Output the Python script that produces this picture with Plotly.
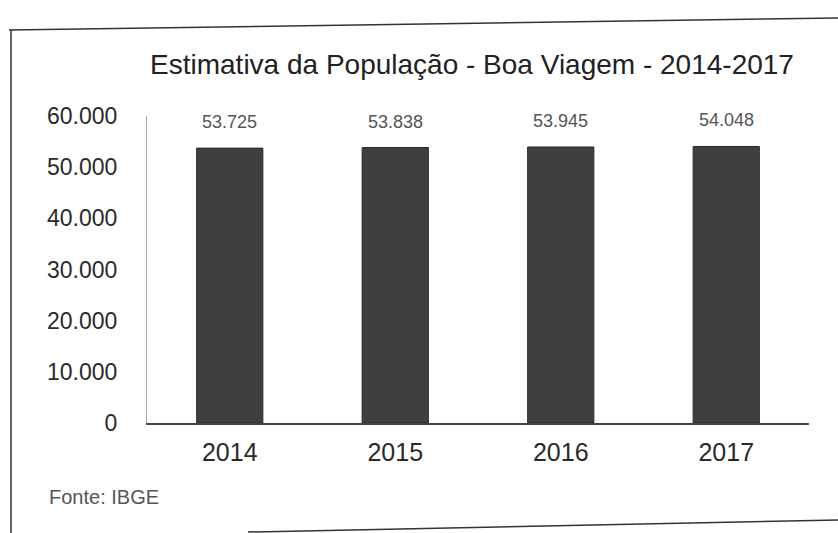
import plotly.graph_objects as go

years = ["2014", "2015", "2016", "2017"]
population = [53725, 53838, 53945, 54048]
y_ticks = [0, 10000, 20000, 30000, 40000, 50000, 60000]

W, H = 838, 533
L, R, T, B = 147, 29, 116, 110
PW, PH = W - L - R, H - T - B


def px(x):
    return (x - L) / PW


def py(y):
    return (H - B - y) / PH


FONT = "Liberation Sans, Arial"

fig = go.Figure(go.Bar(
    x=years, y=population,
    marker=dict(color="#3f3f3f", line=dict(color="#2a2a2a", width=1)),
    width=0.4,
))

# value labels: category index positions on the category axis
annotations = [
    dict(x=i, y=v, xref="x", yref="y", text=f"{v:,}".replace(",", "."),
         showarrow=False, yanchor="bottom", yshift=14,
         font=dict(family=FONT, size=18, color="#555"))
    for i, v in enumerate(population)
]
annotations.append(
    dict(text="Fonte: IBGE", xref="paper", yref="paper", x=px(47), y=py(497),
         xanchor="left", yanchor="middle", showarrow=False,
         font=dict(family=FONT, size=20, color="#555")))

fig.update_layout(
    width=W, height=H,
    margin=dict(l=L, r=R, t=T, b=B),
    paper_bgcolor="white", plot_bgcolor="white",
    separators=",.",
    showlegend=False,
    font=dict(family=FONT, color="#333"),
    title=dict(text="Estimativa da População - Boa Viagem - 2014-2017",
               x=472 / W, xanchor="center", y=1 - 64 / H, yanchor="middle",
               font=dict(size=28, color="#222")),
    xaxis=dict(type="category", range=[-0.5, len(years) - 0.5], autorange=False,
               showgrid=False, showline=True, linecolor="#444", linewidth=1.5,
               ticks="", tickfont=dict(size=25, color="#2a2a2a"),
               ticklabelstandoff=6),
    yaxis=dict(range=[0, 60000], tickvals=y_ticks, tickformat=",d",
               showgrid=False, showline=True, linecolor="#aaa", linewidth=1,
               ticks="", tickfont=dict(size=23, color="#2a2a2a"),
               ticklabelstandoff=24, zeroline=False),
    shapes=[
        dict(type="line", xref="paper", yref="paper", x0=px(9), x1=px(838),
             y0=py(30), y1=py(18), line=dict(color="#333", width=1.5)),
        dict(type="line", xref="paper", yref="paper", x0=px(11), x1=px(11),
             y0=py(30), y1=py(533), line=dict(color="#333", width=1.5)),
        dict(type="line", xref="paper", yref="paper", x0=px(248), x1=px(838),
             y0=py(532), y1=py(520), line=dict(color="#333", width=1.5)),
    ],
    annotations=annotations,
)

fig.write_html("out.html")
